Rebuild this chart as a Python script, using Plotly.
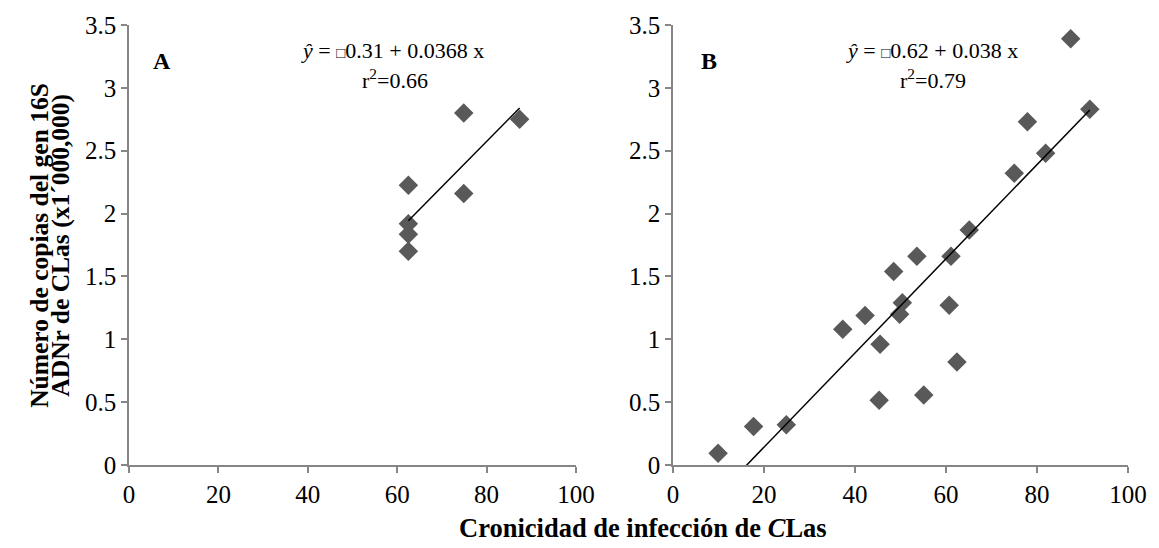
import numpy as np
import plotly.graph_objects as go

# Panel A data
a_x = [74.9, 87.4, 62.5, 74.9, 62.5, 62.5, 62.5]
a_y = [2.80, 2.75, 2.225, 2.16, 1.92, 1.835, 1.70]

# Panel B data
b_x = [87.4, 91.6, 77.9, 81.9, 75.0, 65.1, 61.1, 53.6, 48.5, 50.4, 49.8,
       42.2, 37.3, 45.5, 60.7, 62.4, 55.1, 45.3, 24.9, 17.7, 9.9]
b_y = [3.39, 2.83, 2.73, 2.48, 2.32, 1.87, 1.66, 1.66, 1.54, 1.29, 1.20,
       1.19, 1.08, 0.96, 1.27, 0.82, 0.557, 0.515, 0.32, 0.306, 0.093]

x_ticks = [0, 20, 40, 60, 80, 100]
y_ticks = [0, 0.5, 1, 1.5, 2, 2.5, 3, 3.5]

BOX = '<span style="font-size:15px">□</span>'
eq_a = "<i>ŷ</i> = " + BOX + "0.31 + 0.0368 x"
r2_a = "r<sup>2</sup>=0.66"
eq_b = "<i>ŷ</i> = " + BOX + "0.62 + 0.038 x"
r2_b = "r<sup>2</sup>=0.79"

x_title = "<b>Cronicidad de infección de <i>C</i>Las</b>"
y_title_1 = "<b>Número de copias del gen 16S</b>"
y_title_2 = "<b>ADNr de CLas (x1´000,000)</b>"

FONT = "Liberation Serif, Times New Roman, serif"
MARK = "#595959"
AX = "#868686"

fig = go.Figure()


def add_panel(xs, ys, xa, ya):
    fig.add_trace(go.Scatter(x=xs, y=ys, mode="markers", xaxis=xa, yaxis=ya,
                             marker=dict(symbol="diamond", size=15, color=MARK),
                             showlegend=False, hoverinfo="x+y"))
    slope, inter = np.polyfit(xs, ys, 1)
    lx = np.array([min(xs), max(xs)])
    fig.add_trace(go.Scatter(x=lx, y=inter + slope * lx, mode="lines", xaxis=xa, yaxis=ya,
                             line=dict(color="black", width=1.5),
                             showlegend=False, hoverinfo="skip"))


add_panel(a_x, a_y, "x", "y")
add_panel(b_x, b_y, "x2", "y2")

axis_style = dict(showline=True, linecolor=AX, linewidth=1.5, ticks="outside",
                  ticklen=6, tickcolor=AX, tickwidth=1.5, showgrid=False, zeroline=False,
                  tickfont=dict(family=FONT, size=25, color="black"))

fig.update_layout(
    width=1159, height=548,
    margin=dict(l=129, r=22, t=23, b=83),
    paper_bgcolor="white", plot_bgcolor="white",
    font=dict(family=FONT, color="black"),
    xaxis=dict(domain=[0, 0.4474], range=[0, 100], tickvals=x_ticks, anchor="y", **axis_style),
    yaxis=dict(domain=[0, 1], range=[0, 3.5], tickvals=y_ticks, anchor="x", **axis_style),
    xaxis2=dict(domain=[0.5446, 1], range=[0, 100], tickvals=x_ticks, anchor="y2", **axis_style),
    yaxis2=dict(domain=[0, 1], range=[0, 3.5], tickvals=y_ticks, anchor="x2", **axis_style),
)

ann = []
ann.append(dict(text="<b>A</b>", x=7.3, y=3.21, xref="x", yref="y", showarrow=False,
                font=dict(family=FONT, size=24)))
ann.append(dict(text="<b>B</b>", x=7.8, y=3.21, xref="x2", yref="y2", showarrow=False,
                font=dict(family=FONT, size=24)))
ann.append(dict(text=eq_a, x=59, y=3.30, xref="x", yref="y", showarrow=False,
                font=dict(family=FONT, size=22)))
ann.append(dict(text=r2_a, x=59.5, y=3.07, xref="x", yref="y", showarrow=False,
                font=dict(family=FONT, size=22)))
ann.append(dict(text=eq_b, x=56.9, y=3.30, xref="x2", yref="y2", showarrow=False,
                font=dict(family=FONT, size=22)))
ann.append(dict(text=r2_b, x=57.2, y=3.07, xref="x2", yref="y2", showarrow=False,
                font=dict(family=FONT, size=22)))
ann.append(dict(text=x_title, x=0.515, y=-0.1425,
                xref="paper", yref="paper", showarrow=False, xanchor="center", yanchor="middle",
                font=dict(family=FONT, size=26.5)))
ann.append(dict(text=y_title_1, x=-0.0903, y=0.5, xref="paper", yref="paper", showarrow=False,
                xanchor="center", yanchor="middle", textangle=-90,
                font=dict(family=FONT, size=25.5)))
ann.append(dict(text=y_title_2, x=-0.0694, y=0.5, xref="paper", yref="paper", showarrow=False,
                xanchor="center", yanchor="middle", textangle=-90,
                font=dict(family=FONT, size=25.5)))
fig.update_layout(annotations=ann)

fig.write_html("out.html")
